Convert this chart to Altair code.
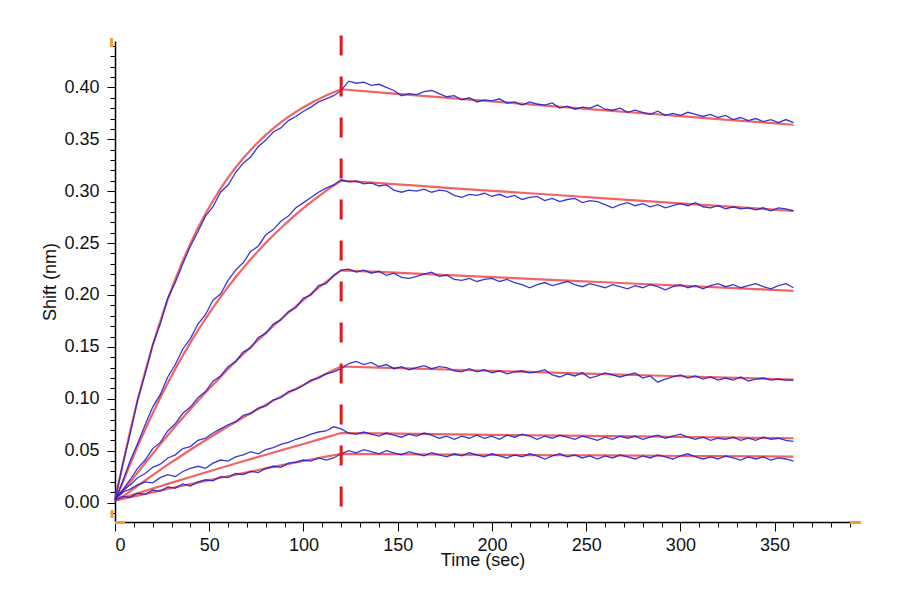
import altair as alt
import pandas as pd

# sampling times (sec)
blue_t = list(range(0, 121, 4)) + list(range(124, 361, 4))
fit_t = list(range(0, 121, 4)) + list(range(140, 361, 20))

# measured traces (blue), association then dissociation
b1_assoc = [0.002, 0.036, 0.066, 0.099, 0.124, 0.152, 0.172, 0.197, 0.212, 0.230, 0.247, 0.261, 0.276, 0.285, 0.299, 0.306,
            0.318, 0.327, 0.333, 0.343, 0.349, 0.357, 0.361, 0.368, 0.372, 0.377, 0.381, 0.386, 0.389, 0.392, 0.397]
b1_dissoc = [0.406, 0.404, 0.405, 0.402, 0.403, 0.400, 0.397, 0.392, 0.394, 0.393,
             0.396, 0.397, 0.394, 0.391, 0.392, 0.388, 0.390, 0.386, 0.388, 0.387,
             0.389, 0.385, 0.386, 0.383, 0.386, 0.384, 0.383, 0.385, 0.380, 0.382,
             0.379, 0.381, 0.380, 0.383, 0.379, 0.378, 0.380, 0.376, 0.378, 0.376,
             0.374, 0.377, 0.373, 0.375, 0.373, 0.376, 0.374, 0.372, 0.374, 0.371,
             0.373, 0.369, 0.371, 0.368, 0.370, 0.367, 0.369, 0.366, 0.369, 0.366]

b2_assoc = [0.001, 0.020, 0.040, 0.057, 0.075, 0.092, 0.104, 0.121, 0.133, 0.148, 0.158, 0.172, 0.181, 0.195, 0.201, 0.214,
            0.224, 0.231, 0.242, 0.247, 0.258, 0.263, 0.271, 0.276, 0.284, 0.289, 0.294, 0.299, 0.303, 0.306, 0.311]
b2_dissoc = [0.309, 0.310, 0.307, 0.308, 0.305, 0.306, 0.301, 0.299, 0.301, 0.300,
             0.302, 0.299, 0.301, 0.300, 0.296, 0.294, 0.297, 0.296, 0.298, 0.295,
             0.297, 0.294, 0.296, 0.292, 0.294, 0.295, 0.291, 0.293, 0.290, 0.292,
             0.293, 0.289, 0.291, 0.290, 0.287, 0.284, 0.287, 0.289, 0.286, 0.288,
             0.285, 0.287, 0.284, 0.286, 0.288, 0.286, 0.289, 0.285, 0.284, 0.286,
             0.283, 0.285, 0.283, 0.284, 0.282, 0.284, 0.281, 0.284, 0.283, 0.281]

b3_assoc = [0.003, 0.012, 0.022, 0.033, 0.041, 0.052, 0.058, 0.069, 0.076, 0.086, 0.092, 0.101, 0.107, 0.117, 0.122, 0.131,
            0.136, 0.145, 0.149, 0.159, 0.163, 0.172, 0.176, 0.184, 0.188, 0.197, 0.200, 0.209, 0.211, 0.219, 0.224]
b3_dissoc = [0.225, 0.222, 0.224, 0.221, 0.223, 0.219, 0.221, 0.217, 0.216, 0.218,
             0.220, 0.222, 0.218, 0.219, 0.215, 0.214, 0.216, 0.213, 0.215, 0.216,
             0.213, 0.215, 0.212, 0.210, 0.207, 0.210, 0.212, 0.209, 0.211, 0.213,
             0.210, 0.208, 0.211, 0.209, 0.207, 0.210, 0.208, 0.206, 0.209, 0.207,
             0.210, 0.208, 0.205, 0.208, 0.210, 0.207, 0.209, 0.206, 0.209, 0.211,
             0.208, 0.210, 0.207, 0.209, 0.211, 0.208, 0.206, 0.209, 0.211, 0.207]

b4_assoc = [0.004, 0.012, 0.017, 0.024, 0.028, 0.034, 0.037, 0.043, 0.046, 0.052, 0.054, 0.060, 0.062, 0.067, 0.071, 0.075,
            0.078, 0.084, 0.086, 0.091, 0.093, 0.099, 0.101, 0.107, 0.109, 0.113, 0.118, 0.120, 0.124, 0.126, 0.129]
b4_dissoc = [0.134, 0.136, 0.133, 0.135, 0.131, 0.133, 0.129, 0.131, 0.128, 0.130,
             0.132, 0.129, 0.131, 0.130, 0.127, 0.126, 0.129, 0.126, 0.128, 0.125,
             0.127, 0.124, 0.126, 0.127, 0.125, 0.126, 0.128, 0.123, 0.121, 0.124,
             0.122, 0.125, 0.120, 0.122, 0.125, 0.123, 0.121, 0.123, 0.125, 0.120,
             0.122, 0.116, 0.119, 0.121, 0.123, 0.120, 0.122, 0.119, 0.121, 0.118,
             0.120, 0.118, 0.121, 0.117, 0.119, 0.120, 0.118, 0.119, 0.118, 0.118]

b5_assoc = [0.004, 0.010, 0.013, 0.017, 0.020, 0.019, 0.024, 0.027, 0.025, 0.030, 0.033, 0.035, 0.033, 0.038, 0.041, 0.040,
            0.044, 0.046, 0.049, 0.047, 0.051, 0.053, 0.056, 0.058, 0.061, 0.063, 0.066, 0.068, 0.069, 0.073, 0.071]
b5_dissoc = [0.067, 0.066, 0.068, 0.066, 0.064, 0.067, 0.065, 0.063, 0.066, 0.064,
             0.067, 0.065, 0.062, 0.064, 0.061, 0.064, 0.062, 0.065, 0.062, 0.064,
             0.061, 0.065, 0.063, 0.066, 0.064, 0.061, 0.064, 0.062, 0.065, 0.063,
             0.061, 0.064, 0.062, 0.060, 0.063, 0.061, 0.064, 0.062, 0.064, 0.061,
             0.063, 0.065, 0.062, 0.064, 0.066, 0.063, 0.061, 0.063, 0.060, 0.062,
             0.061, 0.063, 0.060, 0.062, 0.060, 0.063, 0.061, 0.062, 0.060, 0.059]

b6_assoc = [0.002, 0.006, 0.005, 0.009, 0.008, 0.012, 0.011, 0.015, 0.014, 0.018, 0.016, 0.020, 0.022, 0.021, 0.025, 0.024,
            0.028, 0.027, 0.030, 0.029, 0.033, 0.035, 0.034, 0.038, 0.039, 0.041, 0.040, 0.043, 0.041, 0.043, 0.047]
b6_dissoc = [0.050, 0.048, 0.051, 0.049, 0.047, 0.050, 0.048, 0.046, 0.049, 0.047,
             0.045, 0.048, 0.046, 0.044, 0.047, 0.045, 0.048, 0.046, 0.044, 0.047,
             0.045, 0.043, 0.046, 0.044, 0.047, 0.045, 0.042, 0.045, 0.047, 0.044,
             0.046, 0.043, 0.045, 0.042, 0.045, 0.043, 0.046, 0.044, 0.042, 0.045,
             0.043, 0.046, 0.044, 0.042, 0.045, 0.047, 0.044, 0.042, 0.044, 0.042,
             0.045, 0.043, 0.041, 0.044, 0.042, 0.044, 0.041, 0.043, 0.042, 0.040]

# global fits (red)
r1 = [0.003, 0.0357, 0.0685, 0.0986, 0.1261, 0.1514, 0.1745, 0.1958, 0.2153, 0.2331, 0.2495, 0.2645, 0.2782, 0.2908,
      0.3024, 0.3130, 0.3228, 0.3317, 0.3398, 0.3473, 0.3542, 0.3605, 0.3663, 0.3716, 0.3764, 0.3809, 0.3850, 0.3887,
      0.3922, 0.3953, 0.3982,
      0.3952, 0.3923, 0.3894, 0.3865, 0.3836, 0.3807, 0.3779, 0.3751, 0.3723, 0.3695, 0.3668, 0.3640]
r2 = [0.003, 0.0189, 0.0369, 0.0541, 0.0704, 0.0861, 0.1010, 0.1152, 0.1288, 0.1417, 0.1541, 0.1658, 0.1771, 0.1878,
      0.1980, 0.2078, 0.2171, 0.2259, 0.2344, 0.2425, 0.2502, 0.2575, 0.2645, 0.2712, 0.2776, 0.2837, 0.2895, 0.2950,
      0.3003, 0.3053, 0.3101,
      0.3077, 0.3053, 0.3028, 0.3004, 0.2980, 0.2956, 0.2931, 0.2907, 0.2883, 0.2859, 0.2834, 0.2810]
r3 = [0.003, 0.0098, 0.0194, 0.0289, 0.0381, 0.0472, 0.0561, 0.0648, 0.0734, 0.0817, 0.0899, 0.0980, 0.1058, 0.1135,
      0.1211, 0.1286, 0.1359, 0.1429, 0.1499, 0.1568, 0.1635, 0.1701, 0.1766, 0.1829, 0.1891, 0.1952, 0.2011, 0.2070,
      0.2127, 0.2183, 0.2238,
      0.2222, 0.2205, 0.2189, 0.2172, 0.2156, 0.2139, 0.2123, 0.2106, 0.2090, 0.2073, 0.2057, 0.2040]
r4 = [0.003, 0.0055, 0.0108, 0.0161, 0.0213, 0.0264, 0.0315, 0.0365, 0.0413, 0.0461, 0.0509, 0.0555, 0.0601, 0.0646,
      0.0690, 0.0734, 0.0777, 0.0819, 0.0861, 0.0902, 0.0942, 0.0982, 0.1021, 0.1059, 0.1097, 0.1134, 0.1171, 0.1207,
      0.1242, 0.1277, 0.1311,
      0.1301, 0.1290, 0.1280, 0.1269, 0.1259, 0.1248, 0.1238, 0.1227, 0.1217, 0.1206, 0.1196, 0.1185]
r5 = [0.002, 0.0045, 0.0068, 0.0090, 0.0113, 0.0135, 0.0158, 0.0180, 0.0202, 0.0224, 0.0246, 0.0268, 0.0290, 0.0312,
      0.0333, 0.0355, 0.0376, 0.0398, 0.0419, 0.0440, 0.0461, 0.0482, 0.0503, 0.0524, 0.0545, 0.0565, 0.0586, 0.0607,
      0.0628, 0.0649, 0.0670,
      0.0666, 0.0662, 0.0657, 0.0653, 0.0649, 0.0645, 0.0641, 0.0637, 0.0632, 0.0628, 0.0624, 0.0620]
r6 = [0.002, 0.0035, 0.0051, 0.0067, 0.0083, 0.0099, 0.0115, 0.0131, 0.0147, 0.0162, 0.0178, 0.0193, 0.0209, 0.0224,
      0.0239, 0.0254, 0.0269, 0.0284, 0.0299, 0.0314, 0.0329, 0.0344, 0.0358, 0.0373, 0.0387, 0.0401, 0.0415, 0.0429,
      0.0443, 0.0456, 0.0469,
      0.0467, 0.0465, 0.0462, 0.0460, 0.0458, 0.0456, 0.0454, 0.0452, 0.0449, 0.0447, 0.0445, 0.0443]

# end of association step
step_t = [120]
step_top = [0.450]
step_bottom = [-0.0055]

# axis ticks: every 10 s / 0.01 nm, labelled every 50 s / 0.05 nm
x_ticks = list(range(0, 391, 10))
y_ticks = [round(-0.01 + 0.01 * i, 2) for i in range(46)]

blue_sets = [b1_assoc + b1_dissoc, b2_assoc + b2_dissoc, b3_assoc + b3_dissoc,
             b4_assoc + b4_dissoc, b5_assoc + b5_dissoc, b6_assoc + b6_dissoc]
fit_sets = [r1, r2, r3, r4, r5, r6]

blue_rows = []
for i, vals in enumerate(blue_sets):
    for t, v in zip(blue_t, vals):
        blue_rows.append({'t': t, 'v': v, 'curve': i})
fit_rows = []
for i, vals in enumerate(fit_sets):
    for t, v in zip(fit_t, vals):
        fit_rows.append({'t': t, 'v': v, 'curve': i})

blue_df = pd.DataFrame(blue_rows)
fit_df = pd.DataFrame(fit_rows)
step_df = pd.DataFrame({'t': step_t, 'top': step_top, 'bottom': step_bottom})

W, H = 735, 481
font = 'Liberation Sans'
x_scale = alt.Scale(domain=[0, 390], nice=False, zero=False)
y_scale = alt.Scale(domain=[-0.0187, 0.4447], nice=False, zero=False)

x_axis = alt.Axis(
    values=x_ticks, grid=False,
    labelExpr="datum.value % 50 == 0 ? datum.label : ''",
    tickSize={'condition': {'test': 'datum.value % 50 == 0', 'value': 9}, 'value': 5},
    tickColor='black', domainColor='black', domainWidth=1.5,
    labelFontSize=18, labelFont=font, labelColor='#111', labelPadding=5,
    title='Time (sec)', titleFont=font, titleFontSize=18, titleFontWeight='normal',
    titleColor='#111', titlePadding=-3
)
y_axis = alt.Axis(
    values=y_ticks, grid=False,
    labelExpr="round(datum.value * 100) % 5 == 0 ? format(datum.value, '.2f') : ''",
    tickSize={'condition': {'test': 'round(datum.value * 100) % 5 == 0', 'value': 8}, 'value': 5},
    tickColor='black', domainColor='black', domainWidth=1.5,
    labelFontSize=18, labelFont=font, labelColor='#111', labelPadding=8,
    title='Shift (nm)', titleFont=font, titleFontSize=18, titleFontWeight='normal',
    titleColor='#111', titlePadding=4
)

fits = alt.Chart(fit_df).mark_line(color='#f04848', strokeWidth=2.2, opacity=0.85).encode(
    x=alt.X('t:Q', scale=x_scale, axis=x_axis),
    y=alt.Y('v:Q', scale=y_scale, axis=y_axis),
    detail='curve:N'
)

traces = alt.Chart(blue_df).mark_line(color='#2222d0', strokeWidth=1.3, opacity=0.9).encode(
    x=alt.X('t:Q', scale=x_scale, axis=x_axis),
    y=alt.Y('v:Q', scale=y_scale, axis=y_axis),
    detail='curve:N'
)

step = alt.Chart(step_df).mark_rule(color='#e8141c', strokeWidth=3, strokeDash=[20, 21]).encode(
    x=alt.X('t:Q', scale=x_scale, axis=x_axis),
    y=alt.Y('top:Q', scale=y_scale, axis=y_axis),
    y2='bottom:Q'
)

# small orange axis handles at the ends of the axes
handle = alt.Chart(step_df).mark_rule(color='#f0a030', strokeWidth=3)
handles = [
    handle.encode(x=alt.value(-3.5), y=alt.value(-3), y2=alt.value(6)),
    handle.encode(x=alt.value(-3), y=alt.value(469), y2=alt.value(477)),
    handle.encode(x=alt.value(0), x2=alt.value(10), y=alt.value(481.5)),
    handle.encode(x=alt.value(W), x2=alt.value(W + 11), y=alt.value(481.5)),
]

chart = alt.layer(fits, traces, step, *handles).properties(
    width=W,
    height=H,
    padding={'left': 107, 'top': 33, 'right': 30, 'bottom': 60},
    autosize=alt.AutoSizeParams(type='none'),
    background='white'
).configure_view(stroke=None)

chart.save("out.html", embed_options={"renderer": "svg", "actions": False})
